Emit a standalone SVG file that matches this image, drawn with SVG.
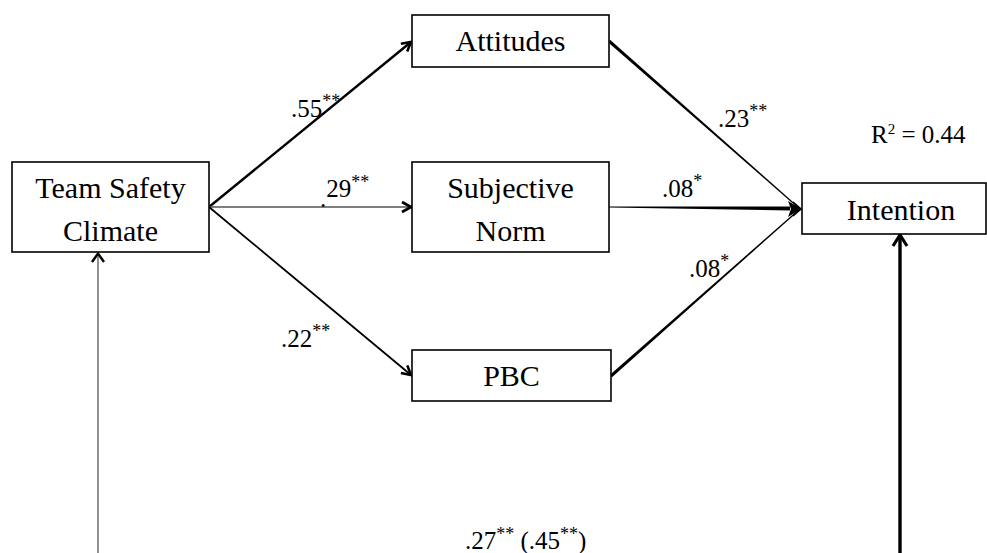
<svg xmlns="http://www.w3.org/2000/svg" width="987" height="553" viewBox="0 0 987 553">
<style>
.box{fill:#fff;stroke:#000;stroke-width:1.6}
.nt{font-family:'Liberation Serif','Times New Roman',serif;font-size:30px;fill:#000;text-anchor:middle}
.lb{font-family:'Liberation Serif','Times New Roman',serif;font-size:25px;fill:#000}
.sup{font-size:18px}
.ln{stroke:#000;fill:none}
</style>
<defs>
<marker id="ah" viewBox="0 0 14 14" refX="12" refY="7" markerWidth="14" markerHeight="14" markerUnits="userSpaceOnUse" orient="auto">
<path d="M3,2 L12,7 L3,12" fill="none" stroke="#000" stroke-width="2.6"/>
</marker>
</defs>
<rect width="987" height="553" fill="#fff"/>
<g id="connectors">
<line class="ln" x1="209" y1="207" x2="411" y2="42" stroke-width="2.4" marker-end="url(#ah)"/>
<line x1="209" y1="207" x2="411" y2="207" stroke="#555" stroke-width="1.3" marker-end="url(#ah)"/>
<line class="ln" x1="209" y1="207" x2="411" y2="375" stroke-width="1.8" marker-end="url(#ah)"/>
<path d="M608,42.2 L610,39.8 L800.4,208.6 L799.6,209.4 Z" fill="#000"/>
<path d="M609,206.5 L609,207.5 L790,210.5 L790,206.5 Z" fill="#000"/>
<path d="M610,374.8 L612,377.2 L800.4,209.4 L799.6,208.6 Z" fill="#000"/>
<path d="M788,201 L801,209 L788,217 L791,209 Z" fill="#000"/>
<path d="M793,202 L801,209 L793,216" fill="none" stroke="#000" stroke-width="1.6"/>
<line class="ln" x1="900" y1="553" x2="900" y2="237" stroke-width="3.4"/>
<path d="M893,246 L900,235 L907,246" fill="none" stroke="#000" stroke-width="3.2"/>
<line x1="98" y1="553" x2="98" y2="254" stroke="#555" stroke-width="1.3"/>
<path d="M92,262 L98,253.5 L104,262" fill="none" stroke="#000" stroke-width="2.4"/>
</g>
<g id="tsc">
<rect class="box" x="12" y="162" width="197" height="90"/>
<text class="nt" x="110.5" y="198">Team Safety</text>
<text class="nt" x="110.5" y="241">Climate</text>
</g>
<g id="attitudes">
<rect class="box" x="412" y="15" width="197" height="52"/>
<text class="nt" x="510.5" y="51">Attitudes</text>
</g>
<g id="subjective-norm">
<rect class="box" x="412" y="162" width="197" height="90"/>
<text class="nt" x="510.5" y="198">Subjective</text>
<text class="nt" x="510.5" y="241">Norm</text>
</g>
<g id="pbc">
<rect class="box" x="412" y="350" width="199" height="51"/>
<text class="nt" x="511.5" y="386">PBC</text>
</g>
<g id="intention">
<rect class="box" x="802" y="183" width="184" height="51"/>
<text class="nt" x="901" y="220">Intention</text>
</g>
<g id="labels">
<text class="lb" x="291" y="117">.55<tspan class="sup" dy="-10">**</tspan></text>
<text class="lb" x="320" y="207">.<tspan dy="-10">29</tspan><tspan class="sup" dy="-9">**</tspan></text>
<text class="lb" x="281" y="347">.22<tspan class="sup" dy="-10">**</tspan></text>
<text class="lb" x="718" y="127">.23<tspan class="sup" dy="-10">**</tspan></text>
<text class="lb" x="662" y="197">.08<tspan class="sup" dy="-10">*</tspan></text>
<text class="lb" x="689" y="277">.08<tspan class="sup" dy="-10">*</tspan></text>
<text class="lb" x="871" y="143">R<tspan class="sup" dy="-9" style="font-size:15px">2</tspan><tspan dy="9"> = 0.44</tspan></text>
<text class="lb" x="465" y="549">.27<tspan class="sup" dy="-9">**</tspan><tspan dy="9"> (.45</tspan><tspan class="sup" dy="-9">**</tspan><tspan dy="9">)</tspan></text>
</g>
</svg>
